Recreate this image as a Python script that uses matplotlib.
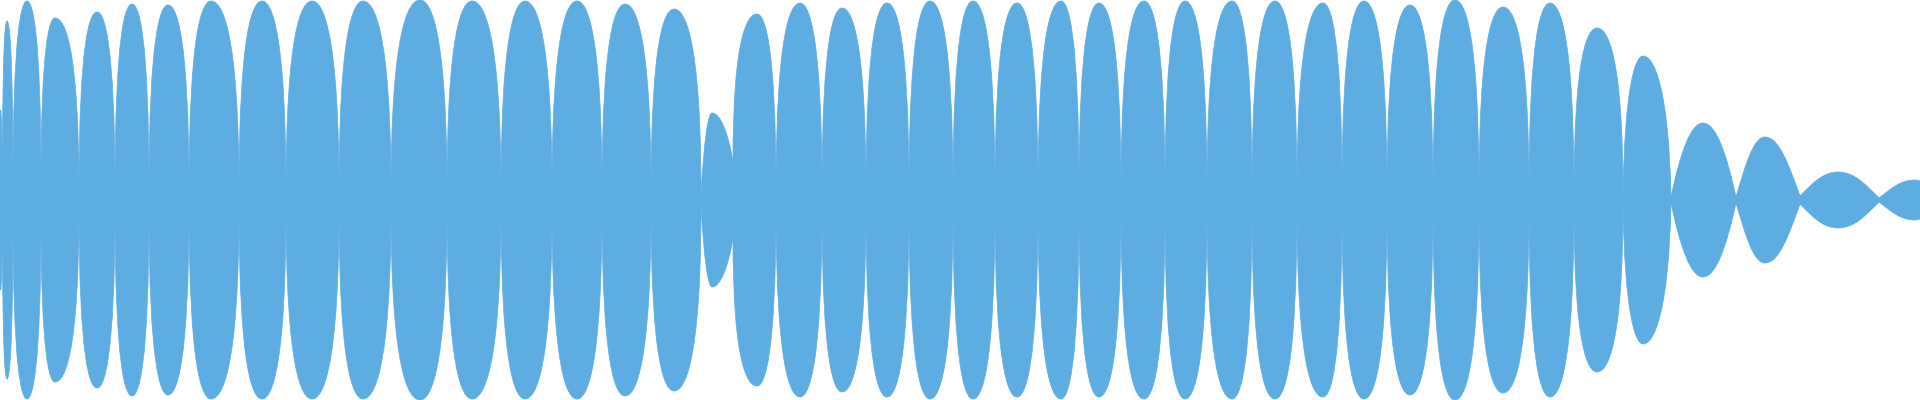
import numpy as np
import matplotlib
matplotlib.use('Agg')
import matplotlib.pyplot as plt
from matplotlib.path import Path
from matplotlib.patches import PathPatch

# envelope: nodes (zero crossings of the envelope)
# and one peak per lobe. x in samples (px), amplitude normalised to +-1
node_x = [-2, 2.5, 13, 41, 79, 115, 149, 189, 239, 286, 339, 391, 447, 501,
          552, 602, 651, 701, 733, 776, 822, 866, 909, 953, 995, 1038, 1079,
          1121, 1165, 1207, 1252, 1297, 1342, 1387, 1433, 1479, 1529, 1574,
          1623, 1671, 1736, 1800, 1879, 1925]
node_h = [0.30, 0.17, 0.05, 0.065, 0.03, 0.03, 0.03, 0.03, 0.03, 0.03, 0.03,
          0.03, 0.03, 0.03, 0.03, 0.03, 0.03, 0.03, 0.195, 0.03, 0.03, 0.03,
          0.03, 0.03, 0.03, 0.03, 0.03, 0.03, 0.03, 0.03, 0.03, 0.03, 0.03,
          0.03, 0.03, 0.03, 0.03, 0.03, 0.02, 0.015, 0.015, 0.02, 0.01, 0.08]
peak_x = [0.5, 7, 27, 55, 97, 132, 168, 211, 262, 312, 363, 420, 472, 525,
          577, 625, 674, 712, 757, 800, 842, 887, 930, 973, 1017, 1061, 1099,
          1144, 1185, 1232, 1275, 1323, 1364, 1410, 1455, 1503, 1550, 1597,
          1643, 1703, 1765, 1838, 1915]
peak_a = [0.45, 0.895, 0.995, 0.91, 0.94, 0.98, 0.975, 0.995, 0.995, 0.995,
          0.995, 1.0, 0.995, 0.995, 0.995, 0.98, 0.955, 0.435, 0.93, 0.985,
          0.96, 0.985, 0.995, 0.995, 0.985, 0.995, 0.985, 0.995, 0.995, 0.995,
          0.995, 0.985, 0.995, 0.975, 1.0, 0.965, 0.985, 0.86, 0.72, 0.385,
          0.315, 0.14, 0.10]

color = '#5DADE2'


def lobe_path(x0, h0, xp, a, x1, h1):
    # fuller (flat topped) lobes for the loud part, rounder for the tail
    f = float(np.clip((a - 0.3) / 0.55, 0, 1))
    c1x = 0.33 * (1 - f)
    c1y = 0.52 + 0.33 * f
    c2x = 0.6
    top = [(x0, h0),
           (x0 + c1x * (xp - x0), h0 + c1y * (a - h0)),
           (x0 + c2x * (xp - x0), a),
           (xp, a),
           (x1 - c2x * (x1 - xp), a),
           (x1 - c1x * (x1 - xp), h1 + c1y * (a - h1)),
           (x1, h1)]
    bottom = [(x, -y) for x, y in reversed(top)]
    verts = top + bottom + [(x0, h0)]
    codes = ([Path.MOVETO] + [Path.CURVE4] * 6 + [Path.LINETO]
             + [Path.CURVE4] * 6 + [Path.CLOSEPOLY])
    return Path(verts, codes)


fig = plt.figure(figsize=(19.2, 4), dpi=100)
ax = fig.add_axes([0, 0, 1, 1])
for i in range(len(peak_x)):
    p = lobe_path(node_x[i], node_h[i], peak_x[i], peak_a[i],
                  node_x[i + 1], node_h[i + 1])
    ax.add_patch(PathPatch(p, facecolor=color, edgecolor=color, lw=0.5))
ax.set_xlim(0, 1920)
ax.set_ylim(-1, 1)
ax.axis('off')
fig.savefig('out.png', dpi=100, facecolor='white')
